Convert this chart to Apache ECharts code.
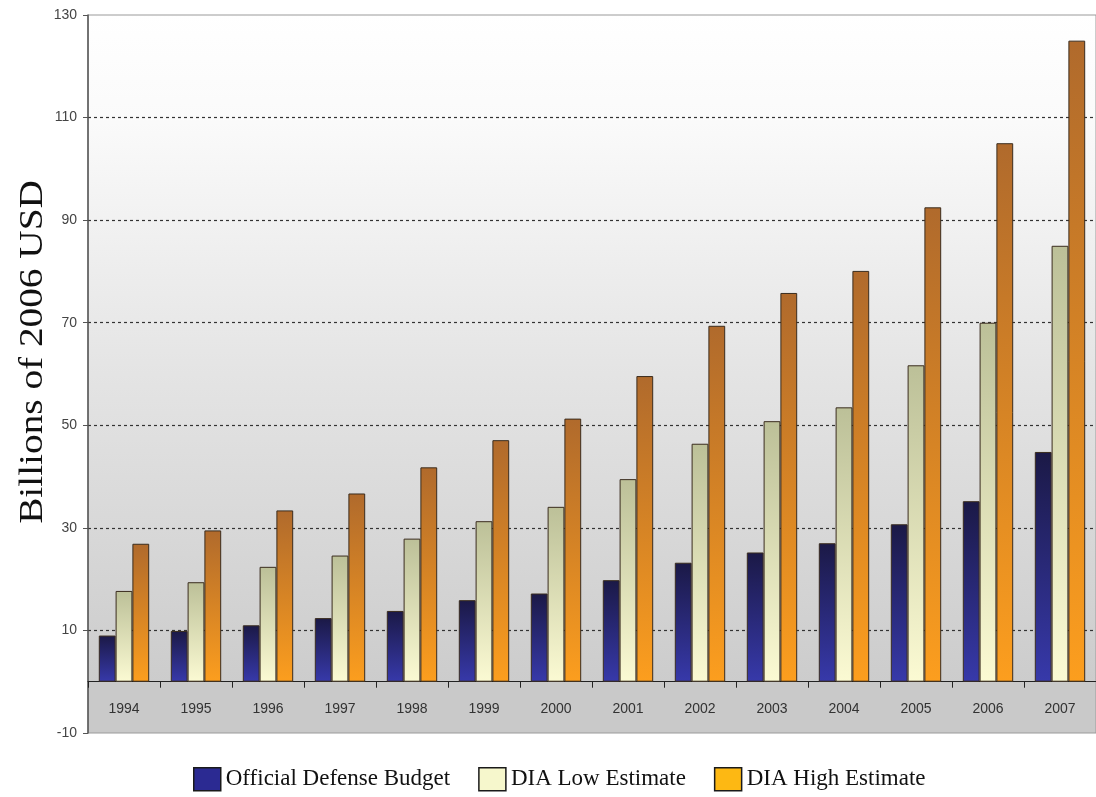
<!DOCTYPE html>
<html>
<head>
<meta charset="utf-8">
<title>Defense Budget Estimates</title>
<script src="https://cdn.jsdelivr.net/npm/echarts@6/dist/echarts.min.js"></script>
<style>
  html, body { margin: 0; padding: 0; background: #ffffff; }
  #chart { width: 1096px; height: 797px; }
</style>
</head>
<body>
<div id="chart"></div>
<script>
// Years on the category axis
const years = ['1994', '1995', '1996', '1997', '1998', '1999', '2000',
               '2001', '2002', '2003', '2004', '2005', '2006', '2007'];

// Billions of 2006 USD
const officialBudget = [9.0, 9.9, 11.0, 12.4, 13.8, 15.9, 17.2, 19.8, 23.2, 25.2, 27.0, 30.7, 35.2, 44.8];
const diaLow         = [17.7, 19.4, 22.4, 24.6, 27.9, 31.3, 34.1, 39.5, 46.4, 50.8, 53.5, 61.7, 70.0, 85.0];
const diaHigh        = [26.9, 29.5, 33.4, 36.7, 41.8, 47.1, 51.3, 59.6, 69.4, 75.8, 80.1, 92.5, 105.0, 125.0];

const seriesNames = ['Official Defense Budget', 'DIA Low Estimate', 'DIA High Estimate'];

// Value axis: ticks run -10, 10, 30 ... 130
const yMin = -10, yMax = 130, yStep = 20;

// Plot box
const plotTop = 15, plotHeight = 718;

const chart = echarts.init(document.getElementById('chart'), null, { renderer: 'canvas' });

function vgrad(top, bottom) {
  return new echarts.graphic.LinearGradient(0, 0, 0, 1, [
    { offset: 0, color: top },
    { offset: 1, color: bottom }
  ]);
}

// fraction of the plot height where the value 0 sits
const zeroFrac = (yMax - 0) / (yMax - yMin);
// the category axis sits on the zero line, lifted from the plot's bottom edge
const zeroLift = plotHeight * (1 - zeroFrac);

const plotBg = new echarts.graphic.LinearGradient(0, 0, 0, 1, [
  { offset: 0, color: '#ffffff' },
  { offset: 0.15, color: '#fafafa' },
  { offset: 0.5, color: '#e4e4e4' },
  { offset: zeroFrac, color: '#cccccc' },
  { offset: zeroFrac, color: '#c9c9c9' },
  { offset: 1, color: '#c9c9c9' }
]);

const barBorder = '#3a2c1e';

const splitColors = [];
for (let v = yMin; v <= yMax; v += yStep) {
  splitColors.push(v === yMin || v === yMax ? 'rgba(0,0,0,0)' : '#333333');
}

const option = {
  animation: false,
  backgroundColor: '#ffffff',
  grid: {
    left: 88, top: plotTop, width: 1012, height: plotHeight,
    show: true,
    backgroundColor: plotBg,
    borderColor: '#9a9a9a',
    borderWidth: 1
  },
  legend: {
    left: 193, top: 767, padding: 0,
    itemWidth: 27, itemHeight: 23, itemGap: 28,
    icon: 'rect',
    textStyle: { fontFamily: 'Liberation Serif', fontSize: 23, color: '#111111' },
    data: [
      { name: seriesNames[0], itemStyle: { color: '#2b2a92', borderColor: '#1a1a1a', borderWidth: 1.5 } },
      { name: seriesNames[1], itemStyle: { color: '#f6f7cc', borderColor: '#1a1a1a', borderWidth: 1.5 } },
      { name: seriesNames[2], itemStyle: { color: '#fdb813', borderColor: '#1a1a1a', borderWidth: 1.5 } }
    ]
  },
  graphic: [{
    type: 'text',
    x: 33, y: 352,
    rotation: Math.PI / 2,
    scaleX: 1.19,
    style: {
      text: 'Billions of 2006 USD',
      fontFamily: 'Liberation Serif',
      fontSize: 33,
      fill: '#111111',
      textAlign: 'center',
      textVerticalAlign: 'middle'
    }
  }],
  xAxis: {
    type: 'category',
    data: years,
    position: 'bottom',
    offset: -zeroLift,
    axisLine: { onZero: false, lineStyle: { color: '#222222', width: 1 } },
    axisTick: { show: true, length: 6, interval: 0, lineStyle: { color: '#222222' } },
    axisLabel: { margin: 20, fontFamily: 'Liberation Sans', fontSize: 14, color: '#333333', interval: 0 },
    splitLine: { show: false }
  },
  yAxis: {
    type: 'value',
    min: yMin, max: yMax, interval: yStep,
    axisLine: { show: true, lineStyle: { color: '#555555', width: 1.5 } },
    axisTick: { show: true, length: 5, lineStyle: { color: '#555555' } },
    axisLabel: { margin: 11, fontFamily: 'Liberation Sans', fontSize: 14, color: '#444444' },
    splitLine: { show: true, lineStyle: { color: splitColors, type: [3, 3], width: 1.2 } }
  },
  series: [
    {
      name: seriesNames[0], type: 'bar', data: officialBudget,
      barGap: '0%', barCategoryGap: '30%',
      itemStyle: { color: vgrad('#1b1946', '#3739aa'), borderColor: barBorder, borderWidth: 1 }
    },
    {
      name: seriesNames[1], type: 'bar', data: diaLow,
      barGap: '0%', barCategoryGap: '30%',
      itemStyle: { color: vgrad('#bcc098', '#fbfad3'), borderColor: barBorder, borderWidth: 1 }
    },
    {
      name: seriesNames[2], type: 'bar', data: diaHigh,
      barGap: '0%', barCategoryGap: '30%',
      itemStyle: { color: vgrad('#b06a2c', '#fc9e1e'), borderColor: barBorder, borderWidth: 1 }
    }
  ]
};

chart.setOption(option);
</script>
</body>
</html>
